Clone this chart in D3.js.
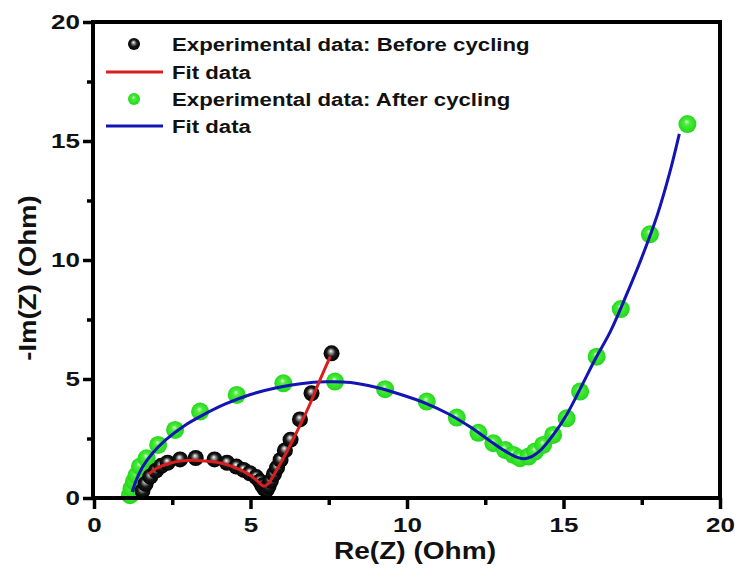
<!DOCTYPE html>
<html>
<head>
<meta charset="utf-8">
<script src="https://cdn.jsdelivr.net/npm/d3@7"></script>
<style>
html,body{margin:0;padding:0;background:#fff;}
svg{display:block;}
text{font-family:"Liberation Sans",Arial,sans-serif;font-weight:bold;fill:#111;}
</style>
</head>
<body>
<svg id="chart" width="735" height="572"></svg>
<script>
// ---- data ----
const beforeX = [1.55,1.65,1.80,1.98,2.15,2.35,2.75,3.25,3.85,4.25,4.55,4.78,4.98,5.18,5.30,5.38,5.45,5.52,5.58,5.65,5.75,5.85,5.96,6.10,6.28,6.58,6.95,7.59];
const beforeY = [0.30,0.60,0.90,1.15,1.35,1.48,1.62,1.68,1.62,1.48,1.32,1.18,1.04,0.88,0.70,0.52,0.38,0.35,0.50,0.72,1.00,1.28,1.60,2.00,2.45,3.30,4.40,6.08];

const beforeFitX = [1.75,2.0,2.4,2.8,3.3,3.8,4.2,4.6,5.0,5.25,5.42,5.55,5.75,6.0,6.3,6.6,6.9,7.2,7.55];
const beforeFitY = [1.0,1.25,1.45,1.56,1.58,1.52,1.42,1.22,0.95,0.68,0.50,0.58,0.98,1.55,2.3,3.1,3.95,4.9,5.95];

const afterX = [1.15,1.20,1.28,1.36,1.47,1.68,2.05,2.59,3.39,4.56,6.05,7.70,9.30,10.63,11.59,12.28,12.76,13.13,13.40,13.61,13.88,14.09,14.35,14.67,15.10,15.53,16.06,16.83,17.76,18.96];
const afterY = [0.12,0.40,0.70,0.95,1.32,1.67,2.23,2.86,3.63,4.33,4.82,4.89,4.57,4.05,3.38,2.74,2.30,2.02,1.81,1.67,1.74,1.95,2.23,2.65,3.35,4.47,5.94,7.94,11.08,15.71];

const afterFitX = [1.22,1.35,1.55,1.85,2.3,2.9,3.5,4.2,5.0,5.8,6.6,7.4,8.2,9.0,9.8,10.6,11.3,12.0,12.6,13.1,13.5,13.75,14.0,14.3,14.7,15.1,15.5,16.0,16.5,17.0,17.5,18.0,18.4,18.7];
const afterFitY = [0.25,0.75,1.3,1.85,2.45,3.05,3.5,3.95,4.35,4.62,4.8,4.88,4.85,4.65,4.35,3.98,3.55,3.0,2.45,2.0,1.72,1.65,1.75,2.05,2.7,3.5,4.5,5.8,7.0,8.5,10.1,11.9,13.7,15.3];

const xMajorTicks = [0,5,10,15,20];
const xMinorTicks = [2.5,7.5,12.5,17.5];
const yMajorTicks = [0,5,10,15,20];
const yMinorTicks = [2.5,7.5,12.5,17.5];

const legendLabels = ["Experimental data: Before cycling","Fit data","Experimental data: After cycling","Fit data"];
const xTitle = "Re(Z) (Ohm)";
const yTitle = "-Im(Z) (Ohm)";

// ---- drawing ----
const svg = d3.select("#chart");
const L = 93, R = 720, T = 22, B = 498;
const x = d3.scaleLinear().domain([0,20]).range([94,720]);
const y = d3.scaleLinear().domain([0,20]).range([B,T]);

const defs = svg.append("defs");
const gb = defs.append("radialGradient").attr("id","gBlack").attr("cx","50%").attr("cy","50%").attr("r","50%").attr("fx","45%").attr("fy","35%");
gb.append("stop").attr("offset","0%").attr("stop-color","#ffffff");
gb.append("stop").attr("offset","22%").attr("stop-color","#9a9a9a");
gb.append("stop").attr("offset","55%").attr("stop-color","#1a1a1a");
gb.append("stop").attr("offset","100%").attr("stop-color","#000");
const gg = defs.append("radialGradient").attr("id","gGreen").attr("cx","50%").attr("cy","50%").attr("r","50%").attr("fx","45%").attr("fy","35%");
gg.append("stop").attr("offset","0%").attr("stop-color","#d8ffd0");
gg.append("stop").attr("offset","30%").attr("stop-color","#4cec3c");
gg.append("stop").attr("offset","100%").attr("stop-color","#22d81a");

const zip = (a,b) => a.map((v,i)=>[v,b[i]]);
const line = d3.line().x(d=>x(d[0])).y(d=>y(d[1])).curve(d3.curveCatmullRom.alpha(0.5));

// green scatter
svg.append("g").selectAll("circle").data(zip(afterX,afterY)).join("circle")
  .attr("cx",d=>x(d[0])).attr("cy",d=>y(d[1])).attr("r",9).attr("fill","url(#gGreen)");
// blue fit
svg.append("path").datum(zip(afterFitX,afterFitY)).attr("d",line)
  .attr("fill","none").attr("stroke","#1414b4").attr("stroke-width",3);
// black scatter
svg.append("g").selectAll("circle").data(zip(beforeX,beforeY)).join("circle")
  .attr("cx",d=>x(d[0])).attr("cy",d=>y(d[1])).attr("r",8).attr("fill","url(#gBlack)");
// red fit
svg.append("path").datum(zip(beforeFitX,beforeFitY)).attr("d",line)
  .attr("fill","none").attr("stroke","#d81e1e").attr("stroke-width",3);

// frame
svg.append("rect").attr("x",L).attr("y",T).attr("width",R-L).attr("height",B-T)
  .attr("fill","none").attr("stroke","#000").attr("stroke-width",4);

// axes
const SX = 1.3;
const xAxis = svg.append("g").attr("transform",`translate(0,${B})`);
xAxis.call(d3.axisBottom(x).tickValues(xMajorTicks).tickSize(11).tickPadding(9).tickFormat(d3.format("d")));
const xMinor = svg.append("g").attr("transform",`translate(0,${B})`);
xMinor.call(d3.axisBottom(x).tickValues(xMinorTicks).tickSize(7).tickFormat(""));
const yAxis = svg.append("g").attr("transform",`translate(${L},0)`);
yAxis.call(d3.axisLeft(y).tickValues(yMajorTicks).tickSize(10).tickPadding(3).tickFormat(d3.format("d")));
const yMinor = svg.append("g").attr("transform",`translate(${L},0)`);
yMinor.call(d3.axisLeft(y).tickValues(yMinorTicks).tickSize(6).tickFormat(""));
[xAxis,xMinor,yAxis,yMinor].forEach(g=>{
  g.select(".domain").remove();
  g.selectAll(".tick line").attr("stroke","#000").attr("stroke-width",3.5);
});
xAxis.selectAll(".tick text").attr("font-size",20).attr("font-family","Liberation Sans").attr("font-weight","bold").attr("fill","#111")
  .attr("transform",`scale(${SX},1)`);
yAxis.selectAll(".tick text").attr("font-size",20).attr("font-family","Liberation Sans").attr("font-weight","bold").attr("fill","#111")
  .attr("x",-13/SX).attr("transform",`scale(${SX},1)`);

// axis titles
svg.append("text").attr("text-anchor","middle").attr("font-size",23)
  .attr("transform","translate(415,559) scale(1.22,1)").text(xTitle);
svg.append("text").attr("text-anchor","middle").attr("font-size",23)
  .attr("transform","translate(36,278) rotate(-90) scale(1.2,1)").text(yTitle);

// legend
const legY = [44,72,99,126];
const lg = svg.append("g");
lg.append("circle").attr("cx",134).attr("cy",legY[0]).attr("r",6).attr("fill","url(#gBlack)");
lg.append("line").attr("x1",106).attr("x2",163).attr("y1",legY[1]).attr("y2",legY[1]).attr("stroke","#d81e1e").attr("stroke-width",3);
lg.append("circle").attr("cx",134).attr("cy",legY[2]).attr("r",6).attr("fill","url(#gGreen)");
lg.append("line").attr("x1",106).attr("x2",163).attr("y1",legY[3]).attr("y2",legY[3]).attr("stroke","#1414b4").attr("stroke-width",3);
legendLabels.forEach((t,i)=>{
  lg.append("text").attr("font-size",18.5)
    .attr("transform",`translate(172,${legY[i]+7}) scale(1.2,1)`).text(t);
});
</script>
</body>
</html>
